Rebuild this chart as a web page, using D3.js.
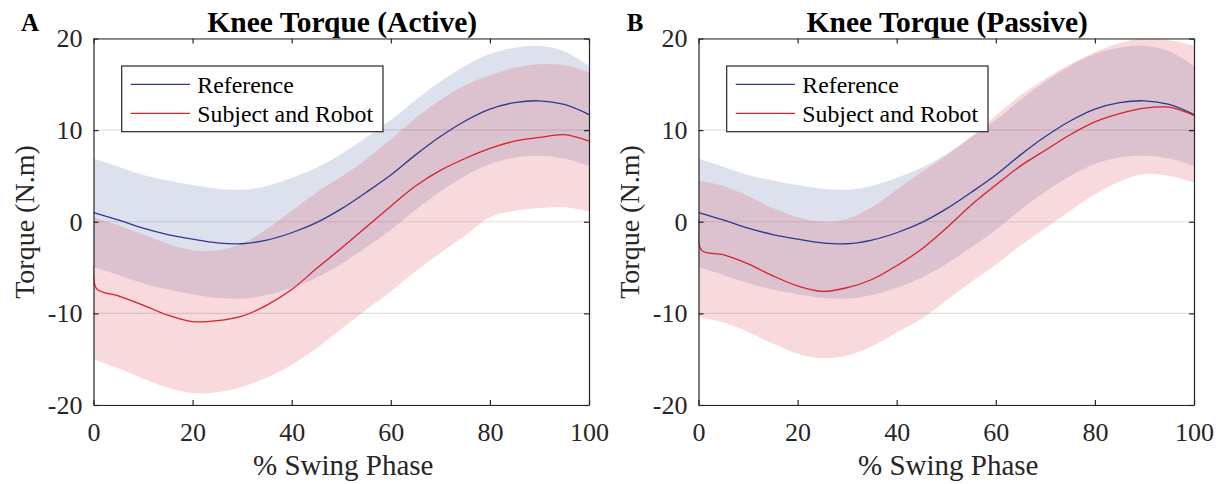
<!DOCTYPE html>
<html><head><meta charset="utf-8">
<script src="https://cdn.jsdelivr.net/npm/d3@7"></script>
<style>
body{margin:0;background:#fff;}
svg{display:block;font-family:"Liberation Serif","Times New Roman",serif;}
</style></head><body><svg id="chart" width="1227" height="484"></svg>
<script>
// ---------- data ----------
const phase = [0,5,10,15,20,25,30,35,40,45,50,55,60,65,70,75,80,85,90,95,100];
const linePhase = [0,0.6,5,10,15,20,25,30,35,40,45,50,55,60,65,70,75,80,85,90,95,100];
const xTicks = [0,20,40,60,80,100];
const yTicks = [-20,-10,0,10,20];
const seriesNames = ["Reference","Subject and Robot"];
const panelTitles = ["Knee Torque (Active)","Knee Torque (Passive)"];
const panelLetters = ["A","B"];

// Reference (same in both panels)
const refMean  = [1.0,0.2,-0.7,-1.4,-1.9,-2.3,-2.4,-2.0,-1.2,-0.1,1.4,3.2,5.1,7.3,9.3,11.0,12.3,13.0,13.2,12.8,11.7];
const refUpper = [6.9,6.0,5.1,4.5,4.0,3.6,3.5,3.9,4.8,5.9,7.4,9.2,11.1,13.3,15.3,17.0,18.3,19.0,19.2,18.6,17.0];
const refLower = [-4.9,-5.8,-6.7,-7.4,-7.9,-8.3,-8.4,-8.0,-7.2,-6.1,-4.6,-2.8,-0.9,1.3,3.3,5.0,6.3,7.0,7.2,6.9,6.1];

// Subject and Robot, active (line on linePhase, band on phase)
const activeMean  = [-4.8,-7.3,-8.1,-9.1,-10.2,-10.9,-10.8,-10.3,-9.1,-7.4,-5.1,-2.9,-0.6,1.7,3.9,5.6,6.9,8.0,8.8,9.2,9.5,8.8];
const activeUpper = [0.5,-0.4,-1.4,-2.4,-3.1,-3.1,-2.4,-0.8,1.2,3.2,4.9,6.8,9.0,11.3,13.3,14.9,16.0,16.8,17.2,17.1,16.3];
const activeLower = [-15.0,-16.0,-17.1,-18.1,-18.7,-18.6,-18.0,-17.0,-15.6,-13.8,-11.7,-9.6,-7.6,-5.4,-3.4,-1.5,0.5,1.2,1.5,1.6,1.1];

// Subject and Robot, passive
const passiveMean  = [0.3,-3.1,-3.6,-4.6,-5.9,-7.0,-7.6,-7.2,-6.3,-4.8,-3.0,-0.7,1.8,4.0,6.1,7.8,9.5,10.9,11.8,12.4,12.5,11.6];
const passiveUpper = [4.5,3.9,2.8,1.5,0.5,0.0,0.3,1.6,3.5,5.4,7.2,9.3,11.6,13.8,15.6,17.2,18.5,19.5,20.0,19.8,19.2];
const passiveLower = [-10.4,-11.0,-12.0,-13.3,-14.4,-14.9,-14.6,-13.6,-12.1,-10.6,-8.6,-6.6,-4.7,-2.6,-0.7,1.2,3.0,4.4,5.2,5.0,4.3];

const panels = [
  {title: panelTitles[0], letter: panelLetters[0], mean: activeMean, upper: activeUpper, lower: activeLower},
  {title: panelTitles[1], letter: panelLetters[1], mean: passiveMean, upper: passiveUpper, lower: passiveLower}
];

// ---------- layout ----------
const W = 1227, H = 484;
const plotTop = 38.5, plotBottom = 405;
const plotLefts = [93.5, 698.5];
const plotWidth = 495.5;
const blue = "#2b3a8e", red = "#d7202d";
const blueFill = "rgb(28,55,142)", redFill = "rgb(220,65,80)";
const axisColor = "#262626";
const fmt = d => String(d);

const svg = d3.select("#chart");
svg.append("rect").attr("width", W).attr("height", H).attr("fill", "#fff");

panels.forEach((pd, i) => {
  const left = plotLefts[i];
  const x = d3.scaleLinear().domain([0,100]).range([left, left + plotWidth]);
  const y = d3.scaleLinear().domain([-20,20]).range([plotBottom, plotTop]);
  const g = svg.append("g");

  const clipId = "clip" + i;
  svg.append("clipPath").attr("id", clipId).append("rect")
    .attr("x", left).attr("y", plotTop).attr("width", plotWidth).attr("height", plotBottom - plotTop);

  // grid
  g.append("g").selectAll("line").data(yTicks).join("line")
    .attr("x1", x(0)).attr("x2", x(100))
    .attr("y1", d => y(d)).attr("y2", d => y(d))
    .attr("stroke", "#e0e0e0").attr("stroke-width", 1.2);

  const bands = g.append("g").attr("clip-path", `url(#${clipId})`);
  const curve = d3.curveCatmullRom.alpha(0.5);
  const area = d3.area().x(d => x(d.p)).y0(d => y(d.lo)).y1(d => y(d.hi)).curve(curve);
  const line = d3.line().x(d => x(d.p)).y(d => y(d.v)).curve(curve);

  const refBand = phase.map((p, k) => ({p, lo: refLower[k], hi: refUpper[k]}));
  const subBand = phase.map((p, k) => ({p, lo: pd.lower[k], hi: pd.upper[k]}));
  bands.append("path").datum(refBand).attr("d", area).attr("fill", blueFill).attr("fill-opacity", 0.15);
  bands.append("path").datum(subBand).attr("d", area).attr("fill", redFill).attr("fill-opacity", 0.2);

  const refLine = phase.map((p, k) => ({p, v: refMean[k]}));
  const subLine = linePhase.map((p, k) => ({p, v: pd.mean[k]}));
  bands.append("path").datum(refLine).attr("d", line).attr("fill", "none").attr("stroke", blue).attr("stroke-width", 1.3);
  bands.append("path").datum(subLine).attr("d", line).attr("fill", "none").attr("stroke", red).attr("stroke-width", 1.3);

  // axes
  const styleAxis = sel => {
    sel.selectAll("path.domain").attr("stroke", axisColor).attr("stroke-width", 1.2);
    sel.selectAll(".tick line").attr("stroke", axisColor).attr("stroke-width", 1.2);
    sel.selectAll(".tick text").attr("fill", axisColor).attr("font-size", 26)
      .attr("font-family", '"Liberation Serif","Times New Roman",serif');
  };
  g.append("g").attr("transform", `translate(0,${plotBottom})`)
    .call(d3.axisBottom(x).tickValues(xTicks).tickSize(-5).tickSizeOuter(0).tickPadding(17.5).tickFormat(fmt))
    .call(styleAxis);
  g.append("g").attr("transform", `translate(0,${plotTop})`)
    .call(d3.axisTop(x).tickValues(xTicks).tickSize(-5).tickSizeOuter(0).tickFormat(""))
    .call(styleAxis);
  g.append("g").attr("transform", `translate(${left},0)`)
    .call(d3.axisLeft(y).tickValues(yTicks).tickSize(-5).tickSizeOuter(0).tickPadding(11).tickFormat(fmt))
    .call(styleAxis);
  g.append("g").attr("transform", `translate(${left + plotWidth},0)`)
    .call(d3.axisRight(y).tickValues(yTicks).tickSize(-5).tickSizeOuter(0).tickFormat(""))
    .call(styleAxis);

  // titles and labels
  const cx = left + plotWidth / 2;
  g.append("text").attr("x", cx + 1).attr("y", 32).attr("text-anchor", "middle")
    .attr("font-size", 29.5).attr("font-weight", "bold").attr("fill", "#000").text(pd.title);
  g.append("text").attr("x", left - 63.5).attr("y", 31).attr("text-anchor", "middle")
    .attr("font-size", 25).attr("font-weight", "bold").attr("fill", "#000").text(pd.letter);
  g.append("text").attr("x", cx + 2).attr("y", 475).attr("text-anchor", "middle")
    .attr("font-size", 29).attr("fill", axisColor).text("% Swing Phase");
  g.append("text").attr("transform", `translate(${left - 60},222) rotate(-90)`).attr("text-anchor", "middle")
    .attr("font-size", 28).attr("fill", axisColor).text("Torque (N.m)");

  // legend
  const lg = g.append("g").attr("transform", `translate(${left + 28.2},66)`);
  lg.append("rect").attr("width", 261.3).attr("height", 65.7)
    .attr("fill", "#fff").attr("stroke", axisColor).attr("stroke-width", 1.2);
  const colors = [blue, red];
  seriesNames.forEach((name, k) => {
    const ly = 18.3 + k * 29;
    lg.append("line").attr("x1", 9).attr("x2", 68.3).attr("y1", ly).attr("y2", ly)
      .attr("stroke", colors[k]).attr("stroke-width", 1.3);
    lg.append("text").attr("x", 75.6).attr("y", ly + 8.7).attr("font-size", 23.8)
      .attr("fill", "#000").text(name);
  });
});
</script></body></html>
